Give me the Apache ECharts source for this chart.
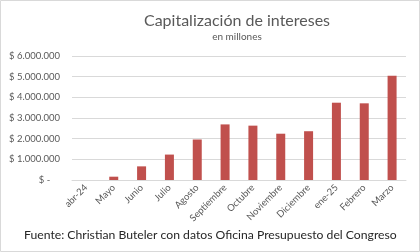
<!DOCTYPE html>
<html>
<head>
<meta charset="utf-8">
<title>Capitalización de intereses</title>
<script src="https://cdn.jsdelivr.net/npm/echarts@6/dist/echarts.min.js"></script>
<style>
  html, body { margin: 0; padding: 0; background: #fff; }
  #chart { width: 420px; height: 252px; }
</style>
</head>
<body>
<div id="chart"></div>
<script>
// datos (en millones de pesos)
var meses = ['abr-24', 'Mayo', 'Junio', 'Julio', 'Agosto', 'Septiembre', 'Octubre', 'Noviembre', 'Diciembre', 'ene-25', 'Febrero', 'Marzo'];
var valores = [0, 160000, 660000, 1230000, 1960000, 2690000, 2630000, 2240000, 2360000, 3740000, 3710000, 5050000];

function formatoPesos(v) {
  if (v === 0) return '$ -    ';
  return '$ ' + String(v).replace(/\B(?=(\d{3})+(?!\d))/g, '.');
}

var gris = '#595959';
var chart = echarts.init(document.getElementById('chart'));
var option = {
  animation: false,
  textStyle: { fontFamily: 'Lato' },
  title: {
    text: 'Capitalización de intereses',
    subtext: 'en millones',
    left: 232,
    textAlign: 'center',
    top: 8,
    itemGap: 3,
    textStyle: { fontSize: 16, fontWeight: 'normal', color: gris, fontFamily: 'Lato' },
    subtextStyle: { fontSize: 10, color: gris, fontFamily: 'Lato' }
  },
  grid: { left: 72, right: 14, top: 56, bottom: 72 },
  xAxis: {
    type: 'category',
    data: meses,
    axisLine: { lineStyle: { color: '#d9d9d9' } },
    axisTick: { show: false },
    axisLabel: { rotate: 45, color: gris, fontSize: 9.5, margin: 6, interval: 0 }
  },
  yAxis: {
    type: 'value',
    min: 0,
    max: 6000000,
    interval: 1000000,
    axisLine: { show: false },
    axisTick: { show: false },
    splitLine: { lineStyle: { color: '#d9d9d9' } },
    axisLabel: { color: gris, fontSize: 9.5, margin: 12, formatter: formatoPesos }
  },
  series: [{
    type: 'bar',
    data: valores,
    barWidth: 9,
    itemStyle: { color: '#c0504d' }
  }],
  graphic: [
    {
      type: 'rect',
      shape: { x: 0.5, y: 0.5, width: 419, height: 251 },
      style: { fill: 'none', stroke: '#d9d9d9', lineWidth: 1 }
    },
    {
      type: 'text',
      left: 24,
      top: 229,
      style: {
        text: 'Fuente: Christian Buteler con datos Oficina Presupuesto del Congreso',
        fontSize: 12.2,
        fill: '#262626',
        fontFamily: 'Lato'
      }
    }
  ]
};
chart.setOption(option);
</script>
</body>
</html>
